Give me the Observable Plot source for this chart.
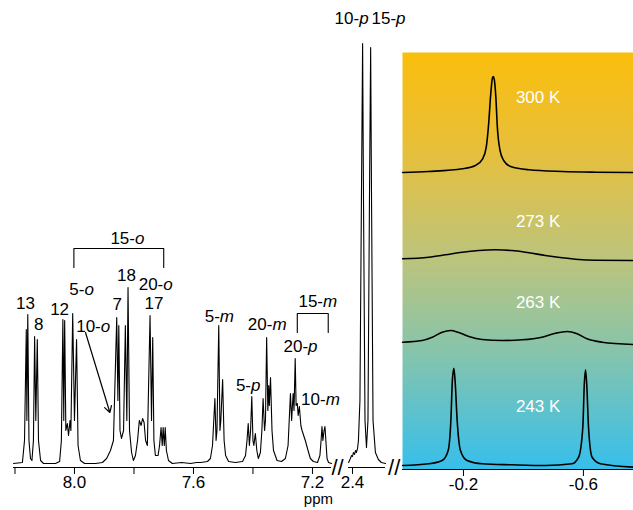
<!DOCTYPE html>
<html><head><meta charset="utf-8">
<script src="https://cdn.jsdelivr.net/npm/d3@7"></script>
<script src="https://cdn.jsdelivr.net/npm/@observablehq/plot@0.6"></script>
<style>
html,body{margin:0;padding:0;background:#fff;}
#chart{position:relative;width:633px;height:510px;overflow:hidden;font-family:"Liberation Sans",Arial,sans-serif;}
#chart > svg{position:absolute;top:0;}
</style></head><body><div id="chart"></div>
<script>
// ---------- DATA ----------
// aromatic region, 300 K: [ppm, intensity]
const aromaticSpectrum = [
[8.205,0],[8.175,1],[8.168,23],[8.162,134],[8.160,43],[8.157,149],[8.153,23],[8.148,5],[8.143,3],[8.138,23],[8.134,127],[8.130,43],[8.125,124],[8.121,23],[8.114,3],[8.104,0],
[8.064,0],[8.050,2],[8.044,23],[8.039,144],[8.036,43],[8.033,143],[8.029,33],[8.024,40],[8.020,28],[8.015,43],[8.012,33],[8.006,150],[8.000,43],[7.993,124],[7.988,18],[7.980,3],[7.966,0],
[7.929,0],[7.906,1],[7.892,5],[7.879,13],[7.869,23],[7.858,146],[7.854,63],[7.851,138],[7.847,33],[7.842,25],[7.835,33],[7.829,138],[7.824,43],[7.820,176],[7.815,33],[7.808,11],[7.802,3],
[7.795,8],[7.788,23],[7.782,43],[7.776,38],[7.771,45],[7.766,41],[7.761,23],[7.755,18],[7.746,148],[7.741,43],[7.737,126],[7.733,23],[7.728,8],[7.719,8],[7.714,18],[7.709,36],[7.705,18],
[7.702,36],[7.698,18],[7.695,36],[7.691,13],[7.684,3],[7.671,0],[7.640,1],[7.610,0],[7.590,1],[7.576,1],[7.553,2],[7.543,5],[7.536,18],[7.528,65],[7.524,23],[7.521,33],[7.515,138],[7.511,33],
[7.508,43],[7.502,84],[7.497,23],[7.492,8],[7.482,2],[7.459,1],[7.435,2],[7.425,8],[7.420,23],[7.416,40],[7.412,18],[7.408,33],[7.404,67],[7.400,23],[7.397,18],[7.392,30],[7.387,13],[7.382,5],
[7.375,11],[7.370,33],[7.366,65],[7.361,33],[7.358,43],[7.354,126],[7.350,53],[7.347,78],[7.345,58],[7.341,86],[7.336,33],[7.331,13],[7.319,3],[7.304,2],[7.291,5],[7.282,18],[7.274,70],
[7.270,43],[7.265,70],[7.262,53],[7.258,105],[7.255,58],[7.251,60],[7.248,48],[7.244,57],[7.239,38],[7.235,33],[7.224,23],[7.213,11],[7.207,5],[7.197,2],[7.183,1],[7.175,8],[7.171,23],
[7.168,37],[7.165,23],[7.161,33],[7.158,37],[7.155,23],[7.151,5],[7.146,1],[7.136,0]
];
// methyl region (10-p, 15-p): [ppm, intensity]
const methylSpectrum = [
[2.413,1],[2.407,5],[2.403,8],[2.400,7],[2.397,11],[2.393,9],[2.390,13],[2.387,11],[2.383,15],[2.380,23],[2.375,63],[2.370,263],[2.366,420],[2.363,263],[2.358,43],[2.353,16],
[2.348,43],[2.343,263],[2.339,416],[2.336,263],[2.331,43],[2.323,11],[2.313,4],[2.303,1],[2.289,0]
];
// variable-temperature traces (relative intensity above each baseline): [ppm, intensity]
const trace300 = [[0.003,0],[-0.084,1],[-0.196,3.7],[-0.240,7],[-0.264,13.7],[-0.276,25.3],[-0.284,48.7],[-0.291,78.7],[-0.296,93.7],[-0.299,96],[-0.303,92.7],[-0.308,75.3],[-0.313,45.3],[-0.322,22],[-0.334,12],[-0.357,6],[-0.418,2.7],[-0.529,1],[-0.640,0.3],[-0.767,0]];
const trace273 = [[0.003,0.7],[-0.084,2.3],[-0.140,4.7],[-0.196,7.3],[-0.251,9],[-0.307,9.7],[-0.362,9],[-0.418,6.7],[-0.473,4],[-0.529,1.7],[-0.584,0],[-0.640,-0.7],[-0.767,-1]];
const trace263 = [[0.003,0.3],[-0.062,2],[-0.096,5.3],[-0.129,10.3],[-0.157,12],[-0.184,10],[-0.218,6],[-0.262,3],[-0.329,2],[-0.396,2.7],[-0.462,5.3],[-0.507,9.3],[-0.546,11],[-0.579,8.7],[-0.612,3.7],[-0.662,0.3],[-0.767,-2]];
const trace243 = [[0.003,0],[-0.084,1.7],[-0.129,5],[-0.149,15],[-0.158,45],[-0.163,85],[-0.168,97.3],[-0.172,85],[-0.179,45],[-0.190,15],[-0.212,5],[-0.262,1.7],[-0.362,0.7],[-0.473,0],[-0.562,1.7],[-0.584,8.3],[-0.598,38.3],[-0.603,81.7],[-0.607,95.7],[-0.611,81.7],[-0.617,38.3],[-0.629,8.3],[-0.657,1.7],[-0.767,-1.7]];
const temperatures = ["300 K", "273 K", "263 K", "243 K"];
const traceOffsets = [297, 210, 127, 4];
const tempLabelLevel = [372, 248, 167, 63];

// peak assignments: [label, ppm, height]
const aromaticLabels = [
["13",8.165,160],["8",8.120,139],["12",8.050,154],["5-o",7.976,174],["10-o",7.937,137],["7",7.856,159],["18",7.825,188],["20-o",7.727,179],["17",7.733,160],
["15-o",7.822,225],["5-m",7.513,147],["20-m",7.352,139],["5-p",7.416,78],["20-p",7.240,117],["10-m",7.173,64],["15-m",7.182,162]
];
const methylLabels = [["10-p",2.403,445],["15-p",2.279,445]];
// brackets: [label, ppm from, ppm to, top, bottom]
const brackets = [["15-o",8.002,7.700,215,196],["15-m",7.251,7.147,150,131]];
// arrow for 10-o: [ppm start, height start, ppm end, height end]
const arrow10o = [[7.963,131,7.881,51]];

const aromaticTicks = [8.2, 8.0, 7.8, 7.6, 7.4, 7.2];
const aromaticTickLabels = ["", "8.0", "", "7.6", "", "7.2"];
const methylTicks = [2.4];
const methylTickLabels = ["2.4"];
const vtTicks = [-0.2, -0.6];
const vtTickLabels = ["-0.2", "-0.6"];
const axisBreaks = [2.450, 2.260];

// ---------- DRAW ----------
const FONT = "'Liberation Sans', Arial, Helvetica, sans-serif";
const baseStyle = {fontFamily: FONT, background: "transparent", overflow: "visible", color: "black"};
const chart = document.getElementById("chart");

function italicize(svg) {
  d3.select(svg).selectAll("text").each(function() {
    const t = this.textContent;
    const m = /^(.*-)([omp])$/.exec(t);
    if (m && this.children.length === 0) {
      this.textContent = "";
      d3.select(this).append("tspan").text(m[1]);
      d3.select(this).append("tspan").attr("font-style", "italic").text(m[2]);
    }
  });
}
function place(svg, left) {
  svg.style.position = "absolute";
  svg.style.left = left + "px";
  svg.style.top = "0px";
  italicize(svg);
  chart.appendChild(svg);
}
const tickFmt = (ticks, labels) => d => { const i = ticks.indexOf(d); return i >= 0 ? labels[i] : ""; };

// Panel 1: aromatic region
const specRows = aromaticSpectrum.map(([ppm, v]) => ({ppm, v}));
const labRows = aromaticLabels.map(([text, ppm, v]) => ({text, ppm, v}));
const bracketRows = brackets.flatMap(([label, a, b, top, bot]) => [
  {label, ppm: a, v: bot}, {label, ppm: a, v: top}, {label, ppm: b, v: top}, {label, ppm: b, v: bot}
]);
const p1 = Plot.plot({
  width: 345, height: 510,
  marginLeft: 13, marginRight: 14, marginTop: 0, marginBottom: 43,
  style: baseStyle,
  x: {domain: [8.205, 7.136]},
  y: {domain: [-4, 463], axis: null},
  marks: [
    Plot.ruleY([-4], {stroke: "black", strokeWidth: 1}),
    Plot.axisX({ticks: aromaticTicks, tickFormat: tickFmt(aromaticTicks, aromaticTickLabels), tickSize: 7, tickPadding: 1, fontSize: 17, label: null, stroke: "black"}),
    Plot.line(specRows, {x: "ppm", y: "v", stroke: "black", strokeWidth: 1.1}),
    Plot.line(bracketRows, {x: "ppm", y: "v", z: "label", stroke: "black", strokeWidth: 1.1}),
    Plot.arrow(arrow10o.map(([a,b,c,d]) => ({x1:a,y1:b,x2:c,y2:d})), {x1: "x1", y1: "y1", x2: "x2", y2: "y2", stroke: "black", strokeWidth: 1.2, headLength: 9}),
    Plot.text(labRows, {x: "ppm", y: "v", text: "text", fontSize: 17, fill: "black"}),
    Plot.text(["ppm"], {x: 7.18, y: -36, text: d => d, fontSize: 15, fill: "black"})
  ]
});
place(p1, 0);

// Panel 2: methyl region
const p2 = Plot.plot({
  width: 75, height: 510,
  marginLeft: 13, marginRight: 25, marginTop: 0, marginBottom: 43,
  style: baseStyle,
  x: {domain: [2.4134, 2.2891]},
  y: {domain: [-4, 463], axis: null},
  marks: [
    Plot.ruleY([-4], {stroke: "black", strokeWidth: 1}),
    Plot.axisX({ticks: methylTicks, tickFormat: tickFmt(methylTicks, methylTickLabels), tickSize: 7, tickPadding: 1, fontSize: 17, label: null, stroke: "black"}),
    Plot.line(methylSpectrum.map(([ppm, v]) => ({ppm, v})), {x: "ppm", y: "v", stroke: "black", strokeWidth: 1.1}),
    Plot.text(methylLabels.map(([text, ppm, v]) => ({text, ppm, v})), {x: "ppm", y: "v", text: "text", fontSize: 17, fill: "black"}),
    Plot.text(axisBreaks, {x: d => d, y: -4, text: () => "//", fontSize: 22, fill: "black"})
  ]
});
place(p2, 335);

// Panel 3: variable-temperature traces
const traces = [trace300, trace273, trace263, trace243];
const vtRows = traces.flatMap((tr, i) => tr.map(([ppm, v]) => ({temp: temperatures[i], ppm, v: v + traceOffsets[i]})));
const vtLabels = temperatures.map((t, i) => ({t, v: tempLabelLevel[i]}));
const p3 = Plot.plot({
  width: 238, height: 510,
  marginLeft: 7, marginRight: 0, marginTop: 52, marginBottom: 41,
  style: baseStyle,
  x: {domain: [0.0033, -0.767]},
  y: {domain: [0, 417], axis: null},
  marks: [
    Plot.frame({fill: "url(#vtgrad)", stroke: "none"}),
    Plot.ruleY([0], {stroke: "black", strokeWidth: 1}),
    Plot.axisX({ticks: vtTicks, tickFormat: tickFmt(vtTicks, vtTickLabels), tickSize: 7, tickPadding: 1, fontSize: 17, label: null, stroke: "black"}),
    Plot.line(vtRows, {x: "ppm", y: "v", z: "temp", stroke: "black", strokeWidth: 1.6, curve: "monotone-x"}),
    Plot.text(vtLabels, {x: -0.449, y: "v", text: "t", fontSize: 17, fill: "white"})
  ]
});
const defs = d3.select(p3).insert("defs", ":first-child");
const g = defs.append("linearGradient").attr("id", "vtgrad").attr("x1", 0).attr("y1", 0).attr("x2", 0).attr("y2", 1);
[["0%", "#FABE0C"], ["22%", "#E9BF38"], ["50%", "#BBC47E"], ["72%", "#86C4AC"], ["100%", "#36BFEC"]].forEach(([o, c]) => g.append("stop").attr("offset", o).attr("stop-color", c));
place(p3, 395);
</script>
</body></html>
